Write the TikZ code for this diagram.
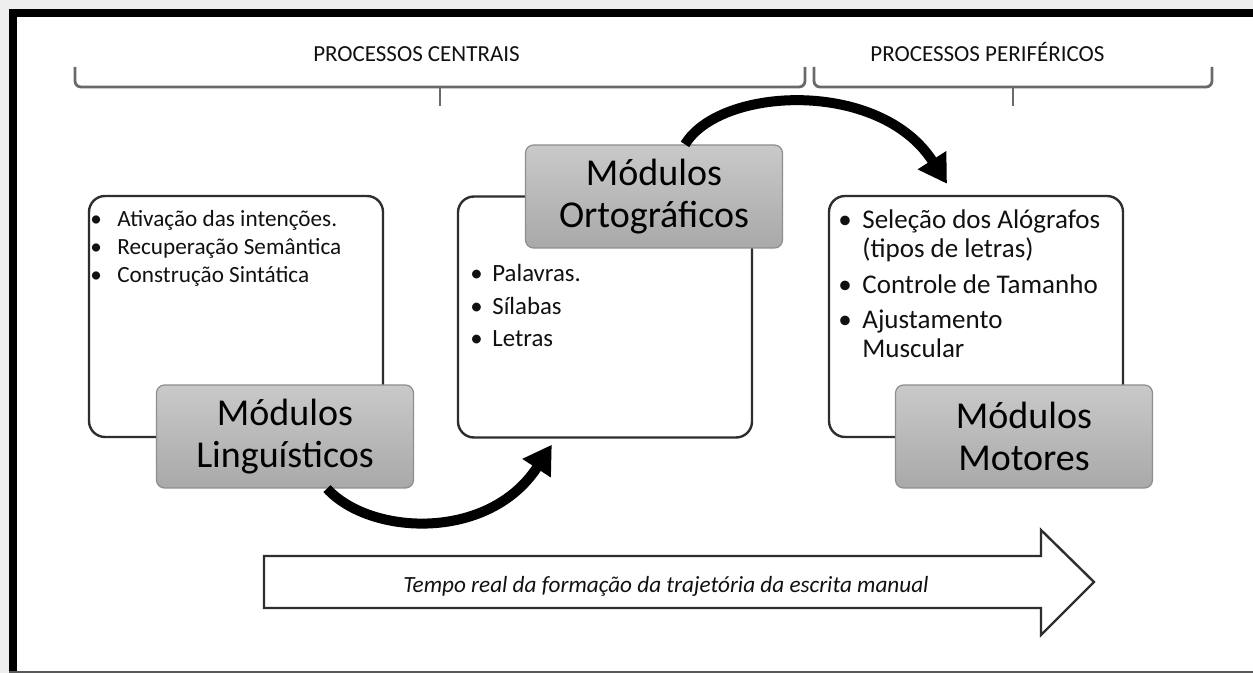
\documentclass[tikz,border=0pt]{standalone}
\usepackage{fontspec}
\setmainfont{Carlito}
\usetikzlibrary{arrows.meta,calc}
\definecolor{bgc}{HTML}{EDEEED}
\definecolor{boxline}{HTML}{2E2E2E}
\definecolor{modline}{HTML}{8E8E8E}
\definecolor{modtop}{HTML}{C9C9C9}
\definecolor{modbot}{HTML}{A9A9A9}
\definecolor{bracecol}{HTML}{6A6A6A}
\definecolor{txt}{HTML}{111111}
\tikzset{
  infobox/.style={draw=boxline, line width=1.2pt, rounded corners=8pt, fill=white,
    minimum width=147pt, minimum height=120.5pt, inner sep=0pt},
  modbox/.style={draw=modline, line width=0.6pt, rounded corners=4pt,
    top color=modtop, bottom color=modbot, minimum width=128.5pt, minimum height=51.5pt,
    inner sep=0pt, align=center, text=black, font=\fontsize{19}{21}\selectfont},
  curvearrow/.style={-{Triangle[length=14pt,width=16pt]}, line width=5pt, black},
  bracepath/.style={draw=bracecol, line width=1.4pt, rounded corners=3pt},
  headtext/.style={anchor=base, inner sep=0pt, text=txt, font=\fontsize{11.5}{14}\selectfont},
  listtext/.style={anchor=base west, inner sep=0pt, text=txt},
}
\begin{document}
\begin{tikzpicture}[x=0.5pt,y=-0.5pt]
\useasboundingbox (0,0) rectangle (1253,673);
% background and frame
\fill[bgc] (0,0) rectangle (1253,673);
\fill[white] (9,9) rectangle (1253,673);
\draw[black, line width=4pt] (13,673) -- (13,13) -- (1253,13);
\draw[black!65, line width=1pt] (9,672) -- (1253,672);

% braces
\draw[bracepath] (75,67) -- (75,87) -- (805,87) -- (805,67);
\draw[bracepath] (440,87) -- (440,106);
\draw[bracepath] (814,67) -- (814,87) -- (1212,87) -- (1212,67);
\draw[bracepath] (1013,87) -- (1013,106);
\node[headtext] (h1) at (416.5,62) {PROCESSOS CENTRAIS};
\node[headtext] (h2) at (987.5,62) {PROCESSOS PERIFÉRICOS};

% info boxes
\node[infobox] (b1) at (236,316.5) {};
\node[infobox] (b2) at (605,317) {};
\node[infobox] (b3) at (976,316.5) {};

% lists
\node[listtext, font=\fontsize{11.6}{14}\selectfont] (l1) at (90,227)
  {\begin{tabular}[t]{@{}l@{}l@{}}
   \makebox[13.5pt][l]{•} & Ativação das intenções.\\
   \makebox[13.5pt][l]{•} & Recuperação Semântica\\
   \makebox[13.5pt][l]{•} & Construção Sintática
   \end{tabular}};
\node[listtext, font=\fontsize{12.4}{16.2}\selectfont] (l2) at (470,282)
  {\begin{tabular}[t]{@{}l@{}l@{}}
   \makebox[11pt][l]{•} & Palavras.\\
   \makebox[11pt][l]{•} & Sílabas\\
   \makebox[11pt][l]{•} & Letras
   \end{tabular}};
\node[listtext, font=\fontsize{13.5}{14.5}\selectfont] (l3) at (838,229)
  {\begin{tabular}[t]{@{}l@{}l@{}}
   \makebox[12pt][l]{•} & Seleção dos Alógrafos\\
                        & (tipos de letras)\\[3.5pt]
   \makebox[12pt][l]{•} & Controle de Tamanho\\[3pt]
   \makebox[12pt][l]{•} & Ajustamento\\
                        & Muscular
   \end{tabular}};

% module boxes
\node[modbox] (g1) at (285,436.5) {Módulos\\Linguísticos};
\node[modbox] (g2) at (654,196.5) {Módulos\\Ortográficos};
\node[modbox] (g3) at (1024,436.5) {Módulos\\Motores};

% curved arrows
\coordinate (a1s) at ($(g1.south)+(42,0)$);
\coordinate (a1e) at ($(b2.south west)+(95,6)$);
\draw[curvearrow] (a1s) .. controls ($(a1s)+(43,47)$) and ($(a1e)+(-63,97)$) .. (a1e);
\coordinate (a2s) at ($(g2.north)+(31,0)$);
\coordinate (a2e) at ($(b3.north)+(-29,-11)$);
\draw[curvearrow] (a2s) .. controls ($(a2s)+(35,-58)$) and ($(a2e)+(-67,-105)$) .. (a2e);

% time arrow
\draw[boxline, line width=1.2pt, fill=white, line join=miter]
  (264,556) -- (1041,556) -- (1041,530) -- (1094,582) -- (1041,635) -- (1041,608) -- (264,608) -- cycle;
\node[anchor=base, inner sep=0pt, text=txt, font=\fontsize{11.6}{14}\selectfont\itshape] (tt) at (666,592)
  {Tempo real da formação da trajetória da escrita manual};
\end{tikzpicture}
\end{document}
